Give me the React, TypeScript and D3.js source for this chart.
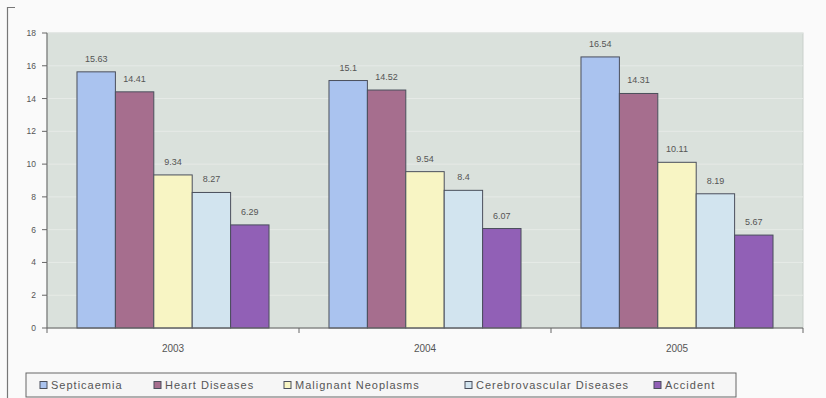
import React from "react";
import * as d3 from "d3";

const years = ["2003", "2004", "2005"];
const seriesNames = ["Septicaemia", "Heart Diseases", "Malignant Neoplasms", "Cerebrovascular Diseases", "Accident"];
const septicaemia = [15.63, 15.1, 16.54];
const heartDiseases = [14.41, 14.52, 14.31];
const malignantNeoplasms = [9.34, 9.54, 10.11];
const cerebrovascular = [8.27, 8.4, 8.19];
const accident = [6.29, 6.07, 5.67];
const yTicks = [0, 2, 4, 6, 8, 10, 12, 14, 16, 18];
const seriesColors = ["#aac3ef", "#a66e8e", "#f8f5c4", "#d2e4ef", "#9160b6"];

const seriesValues = [septicaemia, heartDiseases, malignantNeoplasms, cerebrovascular, accident];

const W = 826;
const H = 398;
const plot = { left: 47, right: 803, top: 33, bottom: 328 };
const FONT = "'Liberation Sans', Arial, sans-serif";

export default function App() {
  const x0 = d3.scaleBand<string>().domain(years).range([plot.left, plot.right]).paddingInner(0).paddingOuter(0);
  const groupPad = 0.119;
  const x1 = d3
    .scaleBand<string>()
    .domain(seriesNames)
    .range([x0.bandwidth() * groupPad, x0.bandwidth() * (1 - groupPad)]);
  const y = d3.scaleLinear().domain([0, 18]).range([plot.bottom, plot.top]);

  const legendX = [43, 157, 287, 468, 657];

  return (
    <svg
      width={W}
      height={H}
      style={{ position: "absolute", left: 0, top: 0, background: "#fafafa" }}
      fontFamily={FONT}
    >
      <rect x={0} y={0} width={W} height={H} fill="#fafafa" />
      {/* outer frame fragment */}
      <path d={`M15,7.5 H7.5 V${H}`} fill="none" stroke="#777" strokeWidth={1.2} />
      {/* plot background */}
      <rect
        x={plot.left}
        y={plot.top}
        width={plot.right - plot.left}
        height={plot.bottom - plot.top}
        fill="#dae1dc"
        stroke="#c9cfcb"
        strokeWidth={1}
      />
      {/* gridlines */}
      {yTicks.slice(1).map((t) => (
        <line key={"g" + t} x1={plot.left} x2={plot.right} y1={y(t)} y2={y(t)} stroke="#e6eae7" strokeWidth={1} />
      ))}
      {/* bars */}
      {years.map((yr, gi) => (
        <g key={yr} transform={`translate(${x0(yr)},0)`}>
          {seriesNames.map((s, si) => {
            const v = seriesValues[si][gi];
            const bx = x1(s)!;
            const bw = x1.bandwidth();
            return (
              <g key={s}>
                <rect
                  x={bx}
                  y={y(v)}
                  width={bw}
                  height={plot.bottom - y(v)}
                  fill={seriesColors[si]}
                  stroke="#4a4f5c"
                  strokeWidth={1}
                />
                <text
                  x={bx + bw / 2}
                  y={y(v) - 10}
                  textAnchor="middle"
                  fontSize={9}
                  fill="#555"
                >
                  {String(v)}
                </text>
              </g>
            );
          })}
        </g>
      ))}
      {/* y axis */}
      <line x1={plot.left} x2={plot.left} y1={plot.top} y2={plot.bottom} stroke="#666" />
      {yTicks.map((t) => (
        <g key={"t" + t}>
          <line x1={plot.left - 5} x2={plot.left} y1={y(t)} y2={y(t)} stroke="#666" />
          <text x={plot.left - 11} y={y(t) + 3} textAnchor="end" fontSize={8.5} fill="#555">
            {t}
          </text>
        </g>
      ))}
      {/* x axis */}
      <line x1={plot.left} x2={plot.right} y1={plot.bottom} y2={plot.bottom} stroke="#666" />
      {[...years.map((yr) => x0(yr)!), plot.right].map((xx, i) => (
        <line key={"xt" + i} x1={xx} x2={xx} y1={plot.bottom} y2={plot.bottom + 5} stroke="#666" />
      ))}
      {years.map((yr) => (
        <text
          key={"xl" + yr}
          x={x0(yr)! + x0.bandwidth() / 2}
          y={352}
          textAnchor="middle"
          fontSize={10}
          fill="#555"
        >
          {yr}
        </text>
      ))}
      {/* legend */}
      <rect x={26} y={373} width={710} height={24} fill="#f6f6f6" stroke="#666" strokeWidth={1} />
      {seriesNames.map((s, i) => (
        <g key={"lg" + s}>
          <rect x={legendX[i] - 3} y={381.5} width={7} height={7} fill={seriesColors[i]} stroke="#4a4f5c" strokeWidth={1} />
          <text x={legendX[i] + 8} y={389} fontSize={11} fill="#555" letterSpacing={1}>
            {s}
          </text>
        </g>
      ))}
    </svg>
  );
}
